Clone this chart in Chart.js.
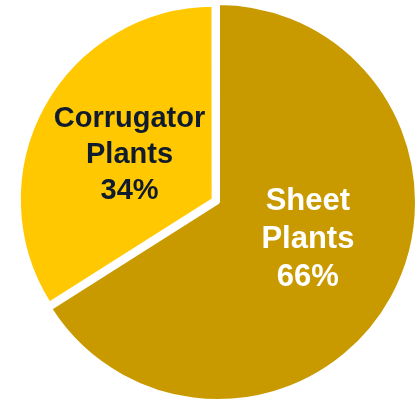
<!DOCTYPE html>
<html>
<head>
<meta charset="utf-8">
<script src="https://cdn.jsdelivr.net/npm/chart.js@4/dist/chart.umd.min.js"></script>
<style>
  html, body { margin: 0; padding: 0; background: #fff; }
  canvas { display: block; }
</style>
</head>
<body>
<canvas id="plants" width="418" height="403"></canvas>
<script>
const categories = ['Sheet\nPlants', 'Corrugator\nPlants']
const shares = [66, 34]

const sliceColors = ['#C99A00', '#FFC800']
const textColors = ['#FFFFFF', '#101B2E']
const fontSizes = [31, 29]
const lineHeights = [38, 36]
// the corrugator slice is pulled out and drawn a bit smaller
const sliceOffsets = [0, 20]
const sliceRadius = [199, 194]
// small turn (degrees) so the labels sit where they read best
const labelTurn = [-6, -1]

const resizeSlices = {
    id: 'resizeSlices',
    afterDatasetUpdate(chart, args) {
        args.meta.data.forEach((arc, i) => { arc.outerRadius = sliceRadius[i] })
    }
}

const sliceLabels = {
    id: 'sliceLabels',
    afterDatasetsDraw(chart) {
        const ctx = chart.ctx
        const meta = chart.getDatasetMeta(0)
        meta.data.forEach((arc, i) => {
            const mid = (arc.startAngle + arc.endAngle) / 2
            const shift = sliceOffsets[i] / 4
            const cx = arc.x + Math.cos(mid) * shift
            const cy = arc.y + Math.sin(mid) * shift
            const a = mid + labelTurn[i] * Math.PI / 180
            const r = arc.outerRadius * 0.49
            const x = cx + Math.cos(a) * r
            const y = cy + Math.sin(a) * r

            const lines = categories[i].split('\n').concat(shares[i] + '%')
            ctx.save()
            ctx.font = `bold ${fontSizes[i]}px "Liberation Sans", Arial, sans-serif`
            ctx.fillStyle = textColors[i]
            ctx.textAlign = 'center'
            ctx.textBaseline = 'middle'
            const top = y - (lines.length - 1) / 2 * lineHeights[i]
            lines.forEach((line, k) => ctx.fillText(line, x, top + k * lineHeights[i]))
            ctx.restore()
        })
    }
}

new Chart(document.getElementById('plants'), {
    type: 'pie',
    data: {
        labels: categories,
        datasets: [{
            data: shares,
            backgroundColor: sliceColors,
            borderColor: '#FFFFFF',
            borderWidth: 4,
            offset: sliceOffsets,
            hoverOffset: 0,
        }]
    },
    options: {
        responsive: false,
        animation: false,
        radius: 199,
        layout: { padding: { left: 18, top: 1 } },
        plugins: {
            legend: { display: false },
            tooltip: { enabled: false },
        },
    },
    plugins: [resizeSlices, sliceLabels]
})
</script>
</body>
</html>
